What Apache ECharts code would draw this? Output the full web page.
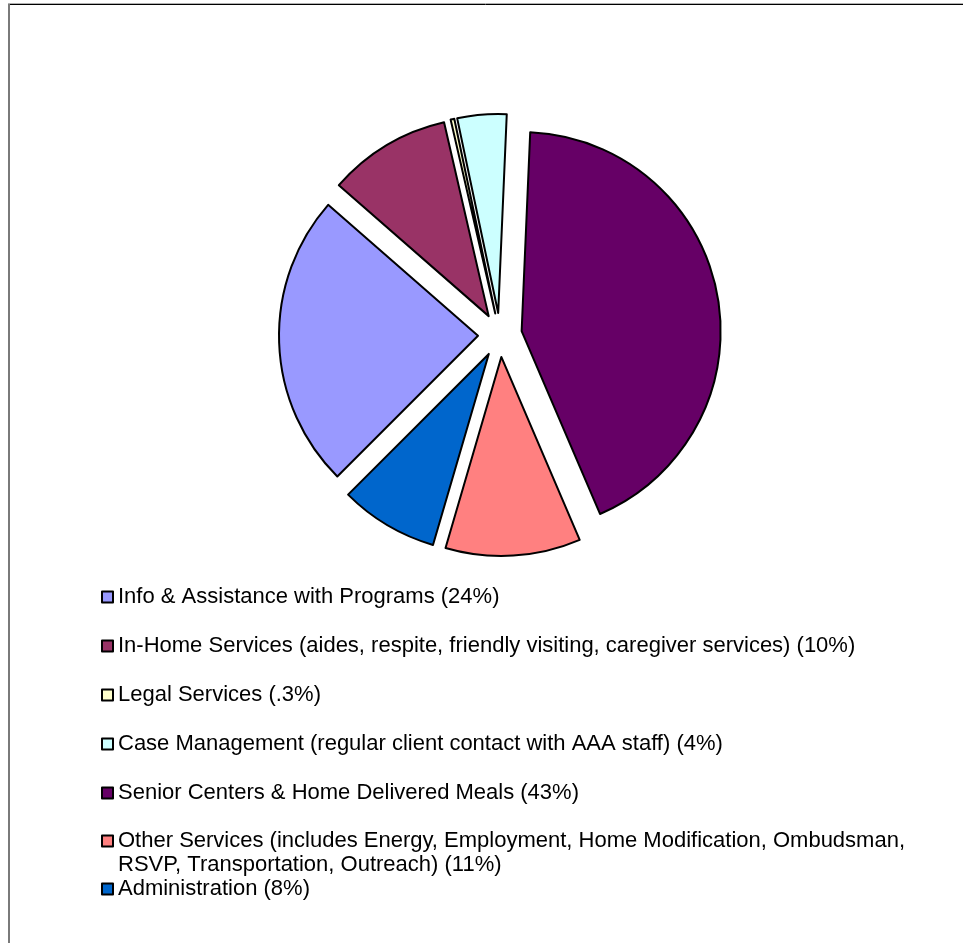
<!DOCTYPE html>
<html>
<head>
<meta charset="utf-8">
<script src="https://cdn.jsdelivr.net/npm/echarts@6/dist/echarts.min.js"></script>
<style>
  html, body { margin: 0; padding: 0; background: #ffffff; }
  #chart { width: 963px; height: 943px; }
</style>
</head>
<body>
<div id="chart"></div>
<script>
// Share of program spending by service category
const categories = [
  'Info & Assistance with Programs (24%)',
  'In-Home Services (aides, respite, friendly visiting, caregiver services) (10%)',
  'Legal Services (.3%)',
  'Case Management (regular client contact with AAA staff) (4%)',
  'Senior Centers & Home Delivered Meals (43%)',
  'Other Services (includes Energy, Employment, Home Modification, Ombudsman,\nRSVP, Transportation, Outreach) (11%)',
  'Administration (8%)'
];
const shares = [24, 10, 0.3, 4, 43, 11, 8];
const sliceColors = ['#9999FF', '#993366', '#FFFFCC', '#CCFFFF', '#660066', '#FF8080', '#0066CC'];

const FONT = '"Liberation Sans", Arial, sans-serif';

const pieData = categories.map((name, i) => ({
  name: name,
  value: shares[i],
  selected: true,
  itemStyle: { color: sliceColors[i] }
}));

const legendText = {
  fontFamily: FONT,
  fontSize: 22,
  color: '#000000',
  lineHeight: 24
};

// common look of the legend keys
function keyLegend(extra) {
  return Object.assign({
    orient: 'vertical',
    left: 101,
    padding: 0,
    itemWidth: 11,
    itemHeight: 11,
    icon: 'rect',
    selectedMode: false,
    itemStyle: { borderColor: '#000000', borderWidth: 2 },
    textStyle: legendText
  }, extra);
}

const chart = echarts.init(document.getElementById('chart'), null, { renderer: 'canvas' });

chart.setOption({
  backgroundColor: '#ffffff',
  animation: false,
  graphic: [
    { type: 'line', shape: { x1: 8, y1: 3.5, x2: 963, y2: 3.5 }, style: { stroke: '#b0b0b0', lineWidth: 1 } },
    { type: 'line', shape: { x1: 8, y1: 4.5, x2: 963, y2: 4.5 }, style: { stroke: '#000000', lineWidth: 1 } },
    { type: 'line', shape: { x1: 9, y1: 4, x2: 9, y2: 943 }, style: { stroke: '#7a7a7a', lineWidth: 2 } }
  ],
  legend: [
    keyLegend({ top: 585, itemGap: 25, data: categories.slice(0, 5) }),
    // the two-line entry: a leading blank line keeps its key level with the first line
    keyLegend({ top: 805, data: [categories[5]], formatter: name => '\n' + name }),
    keyLegend({ top: 877, data: [categories[6]] })
  ],
  series: [
    {
      type: 'pie',
      center: [500, 335],
      radius: 199,
      startAngle: 225,
      clockwise: true,
      selectedMode: 'multiple',
      selectedOffset: 22,
      avoidLabelOverlap: false,
      label: { show: false },
      labelLine: { show: false },
      itemStyle: { borderColor: '#000000', borderWidth: 2 },
      emphasis: { disabled: true, scale: false },
      select: { itemStyle: { borderColor: '#000000', borderWidth: 2 } },
      data: pieData
    }
  ]
});
</script>
</body>
</html>
